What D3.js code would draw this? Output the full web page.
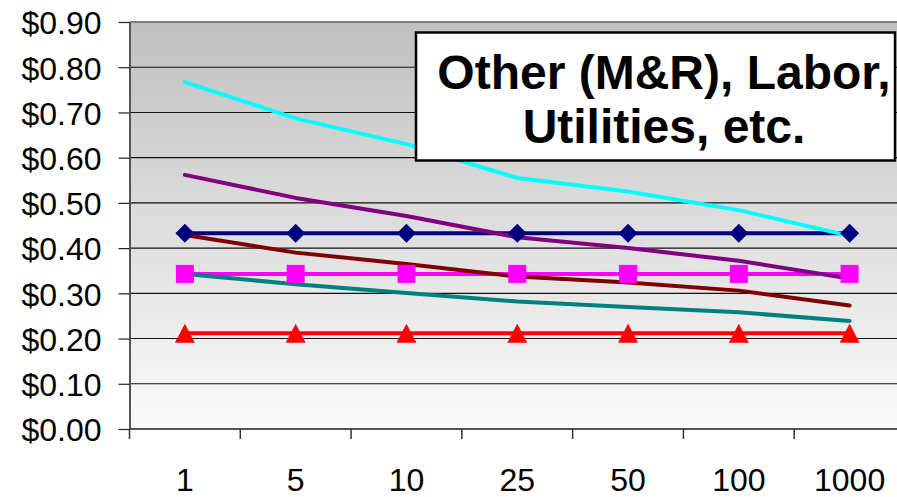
<!DOCTYPE html>
<html>
<head>
<meta charset="utf-8">
<script src="https://cdn.jsdelivr.net/npm/d3@7"></script>
<style>
  html, body { margin: 0; padding: 0; background: #ffffff; }
  svg { display: block; font-family: "Liberation Sans", Arial, sans-serif; }
</style>
</head>
<body>
<svg id="chart" width="897" height="497"></svg>
<script>
// Production volume categories along the x axis
const categories = ["1", "5", "10", "25", "50", "100", "1000"];

// Cost per unit ($) for each series
const navyDiamond   = [0.433, 0.433, 0.433, 0.433, 0.433, 0.433, 0.433];
const magentaSquare = [0.343, 0.343, 0.343, 0.343, 0.343, 0.343, 0.343];
const redTriangle   = [0.212, 0.212, 0.212, 0.212, 0.212, 0.212, 0.212];
const cyanLine      = [0.767, 0.687, 0.630, 0.555, 0.525, 0.484, 0.427];
const purpleLine    = [0.562, 0.511, 0.471, 0.424, 0.400, 0.372, 0.333];
const darkRedLine   = [0.429, 0.390, 0.365, 0.337, 0.324, 0.306, 0.273];
const tealLine      = [0.343, 0.320, 0.301, 0.282, 0.270, 0.258, 0.239];

// Y axis tick values
const yTicks = [0, 0.1, 0.2, 0.3, 0.4, 0.5, 0.6, 0.7, 0.8, 0.9];

const titleLines = ["Other (M&R), Labor,", "Utilities, etc."];

const series = [
  { values: navyDiamond,   color: "#000080", marker: "diamond" },
  { values: magentaSquare, color: "#FF00FF", marker: "square" },
  { values: redTriangle,   color: "#FF0000", marker: "triangle" },
  { values: cyanLine,      color: "#00FFFF", marker: null },
  { values: purpleLine,    color: "#800080", marker: null },
  { values: darkRedLine,   color: "#800000", marker: null },
  { values: tealLine,      color: "#008080", marker: null }
];

const svg = d3.select("#chart");
const plot = { left: 129.5, right: 905, top: 22, bottom: 429 };

const x = d3.scaleBand().domain(categories).range([plot.left, plot.right]).paddingInner(0).paddingOuter(0);
const y = d3.scaleLinear().domain([0, 0.9]).range([plot.bottom, plot.top]);
const cx = c => x(c) + x.bandwidth() / 2;

// Plot-area background: grey at the top fading to near white
const defs = svg.append("defs");
const grad = defs.append("linearGradient").attr("id", "bg")
  .attr("x1", 0).attr("y1", 0).attr("x2", 0).attr("y2", 1);
grad.append("stop").attr("offset", "0%").attr("stop-color", "#c0c0c0");
grad.append("stop").attr("offset", "100%").attr("stop-color", "#fbfbfb");

svg.append("rect")
  .attr("x", plot.left).attr("y", plot.top)
  .attr("width", plot.right - plot.left).attr("height", plot.bottom - plot.top)
  .attr("fill", "url(#bg)");

// Horizontal gridlines
svg.append("g").selectAll("line")
  .data(yTicks.filter(v => v > 0 && v < 0.9))
  .join("line")
  .attr("x1", plot.left).attr("x2", plot.right)
  .attr("y1", d => y(d)).attr("y2", d => y(d))
  .attr("stroke", "#111").attr("stroke-width", 1.1);

// Top border of the plot area
svg.append("line")
  .attr("x1", plot.left).attr("x2", plot.right)
  .attr("y1", y(0.9)).attr("y2", y(0.9))
  .attr("stroke", "#808080").attr("stroke-width", 2);

// Y axis
const yAxis = d3.axisLeft(y)
  .tickValues(yTicks)
  .tickSize(11)
  .tickSizeOuter(0)
  .tickPadding(17)
  .tickFormat(d3.format("$.2f"));

const yG = svg.append("g").attr("transform", `translate(${plot.left},0)`).call(yAxis);
yG.select(".domain").attr("stroke", "#555").attr("stroke-width", 2);
yG.selectAll(".tick line").attr("stroke", "#222").attr("stroke-width", 1.2);
yG.selectAll(".tick text")
  .attr("font-size", 32)
  .attr("fill", "#000")
  .attr("dy", "0.37em")
  .style("font-family", "'Liberation Sans', Arial, sans-serif");

// X axis: baseline, ticks on category boundaries, labels centred in each band
const xG = svg.append("g");
xG.append("line")
  .attr("x1", plot.left).attr("x2", plot.right)
  .attr("y1", plot.bottom).attr("y2", plot.bottom)
  .attr("stroke", "#555").attr("stroke-width", 2);
const boundaries = categories.map(c => x(c)).concat([x(categories[categories.length - 1]) + x.bandwidth()]);
xG.selectAll("line.tick")
  .data(boundaries)
  .join("line").attr("class", "tick")
  .attr("x1", d => d).attr("x2", d => d)
  .attr("y1", plot.bottom).attr("y2", plot.bottom + 10)
  .attr("stroke", "#333").attr("stroke-width", 1.5);
xG.selectAll("text")
  .data(categories)
  .join("text")
  .attr("x", d => cx(d))
  .attr("y", 491)
  .attr("text-anchor", "middle")
  .attr("font-size", 32)
  .attr("fill", "#000")
  .text(d => d);

// Series lines
const line = d3.line()
  .x((d, i) => cx(categories[i]))
  .y(d => y(d));

svg.append("g").selectAll("path")
  .data(series)
  .join("path")
  .attr("d", s => line(s.values))
  .attr("fill", "none")
  .attr("stroke", s => s.color)
  .attr("stroke-width", 4)
  .attr("stroke-linejoin", "round")
  .attr("stroke-linecap", "round");

// Markers
function markerPath(kind) {
  const p = d3.path();
  if (kind === "diamond") {
    p.moveTo(0, -9.5); p.lineTo(9.5, 0); p.lineTo(0, 9.5); p.lineTo(-9.5, 0); p.closePath();
  } else if (kind === "square") {
    p.rect(-9, -9, 18, 18);
  } else if (kind === "triangle") {
    p.moveTo(0, -9.5); p.lineTo(10, 9.5); p.lineTo(-10, 9.5); p.closePath();
  }
  return p.toString();
}

series.filter(s => s.marker).forEach(s => {
  svg.append("g").selectAll("path")
    .data(s.values)
    .join("path")
    .attr("transform", (d, i) => `translate(${cx(categories[i])},${y(d)})`)
    .attr("d", markerPath(s.marker))
    .attr("fill", s.color);
});

// Title box
const box = { x: 416, y: 32.5, w: 479, h: 128 };
svg.append("rect")
  .attr("x", box.x).attr("y", box.y)
  .attr("width", box.w).attr("height", box.h)
  .attr("fill", "#ffffff")
  .attr("stroke", "#000")
  .attr("stroke-width", 2.5);

svg.append("g").selectAll("text")
  .data(titleLines)
  .join("text")
  .attr("x", 664)
  .attr("y", (d, i) => 89 + i * 54)
  .attr("text-anchor", "middle")
  .attr("font-size", 48)
  .attr("font-weight", "bold")
  .attr("fill", "#000")
  .text(d => d);
</script>
</body>
</html>
